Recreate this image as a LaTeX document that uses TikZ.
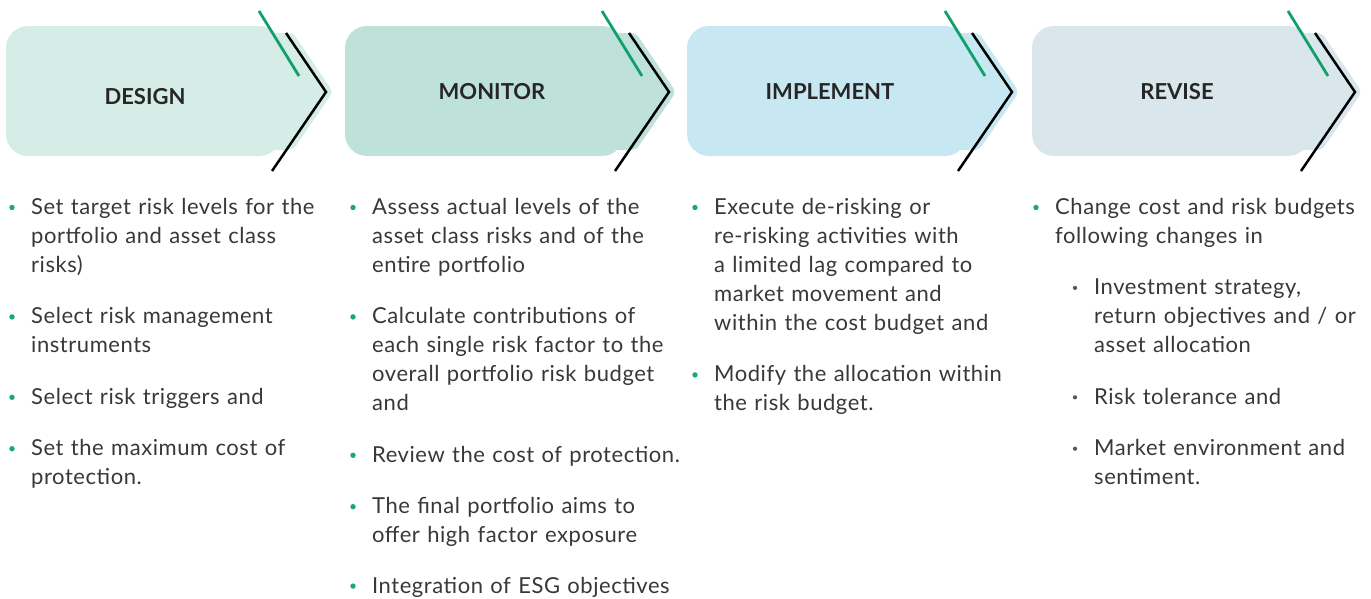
\documentclass[tikz,border=0pt]{standalone}
\usepackage{fontspec}
\setmainfont{Lato}
\newfontfamily\bodyfont[LetterSpace=2.5]{Lato}
\usetikzlibrary{positioning}

\definecolor{designfill}{HTML}{D5EDE6}
\definecolor{monitorfill}{HTML}{BEE2D9}
\definecolor{implementfill}{HTML}{C7E8F2}
\definecolor{revisefill}{HTML}{D9E6EC}
\definecolor{accentgreen}{HTML}{12A06A}
\definecolor{bulletgreen}{HTML}{1BA877}
\definecolor{inkgray}{HTML}{383838}

\tikzset{
  chevron/.style={draw=black, line width=2.5pt},
  accent/.style={draw=accentgreen, line width=2.8pt},
  stagetitle/.style={font=\bfseries\fontsize{22pt}{26pt}\selectfont, text=black!85},
  entry/.style={anchor=north west, inner sep=0pt, text width=330pt, align=left,
    font=\bodyfont\fontsize{22pt}{29pt}\selectfont, text=inkgray,
    execute at begin node=\strut, execute at end node=\strut},
}
\newcommand\mainbullet[1]{\fill[bulletgreen] ([xshift=-19pt,yshift=-13.5pt]#1.north west) circle (2.7pt);}
\newcommand\subbullet[1]{\fill[inkgray!85] ([xshift=-19pt,yshift=-13.5pt]#1.north west) circle (2.1pt);}

\begin{document}
\begin{tikzpicture}[x=1pt, y=-1pt]
\useasboundingbox (0,0) rectangle (1371,598);

% stage arrows
\foreach \l/\t/\col/\cx/\ty/\w in {6/326/designfill/145/97/DESIGN,
    345/669/monitorfill/492/92/MONITOR,
    687/1012/implementfill/830/92/IMPLEMENT,
    1032/1355/revisefill/1177/92/REVISE}{
  \fill[\col, rounded corners=22pt] (\l,26) rectangle (\t-45,156);
  \fill[\col, rounded corners=5pt] (\t-60,33) -- (\t-33,33) -- (\t+7,92) -- (\t-33,150) -- (\t-60,150) -- cycle;
  \draw[chevron] (\t-40,33) -- (\t,92) -- (\t-54,171);
  \draw[accent] (\t-67,11) -- (\t-27,76);
  \node[stagetitle] (\w) at (\cx,\ty) {\w};
}

% design
\node[entry] (d1) at (31,194) {Set target risk levels for the\\portfolio and asset class\\risks)};
\node[entry, below right=22pt and 0pt of d1.south west] (d2) {Select risk management\\instruments};
\node[entry, below right=22pt and 0pt of d2.south west] (d3) {Select risk triggers and};
\node[entry, below right=22pt and 0pt of d3.south west] (d4) {Set the maximum cost of\\protection.};

% monitor
\node[entry] (m1) at (372,194) {Assess actual levels of the\\asset class risks and of the\\entire portfolio};
\node[entry, below right=22pt and 0pt of m1.south west] (m2) {Calculate contributions of\\each single risk factor to the\\overall portfolio risk budget\\and};
\node[entry, below right=22pt and 0pt of m2.south west] (m3) {Review the cost of protection.};
\node[entry, below right=22pt and 0pt of m3.south west] (m4) {The final portfolio aims to\\offer high factor exposure};
\node[entry, below right=21pt and 0pt of m4.south west] (m5) {Integration of ESG objectives};

% implement
\node[entry] (i1) at (714,194) {Execute de-risking or\\re-risking activities with\\a limited lag compared to\\market movement and\\within the cost budget and};
\node[entry, below right=22pt and 0pt of i1.south west] (i2) {Modify the allocation within\\the risk budget.};

% revise
\node[entry] (r1) at (1055,194) {Change cost and risk budgets\\following changes in};
\node[entry, below right=22pt and 39pt of r1.south west] (r2) {Investment strategy,\\return objectives and / or\\asset allocation};
\node[entry, below right=22pt and 0pt of r2.south west] (r3) {Risk tolerance and};
\node[entry, below right=22pt and 0pt of r3.south west] (r4) {Market environment and\\sentiment.};

% bullets
\foreach \n in {d1,d2,d3,d4,m1,m2,m3,m4,m5,i1,i2,r1}{\mainbullet{\n}}
\foreach \n in {r2,r3,r4}{\subbullet{\n}}
\end{tikzpicture}
\end{document}
